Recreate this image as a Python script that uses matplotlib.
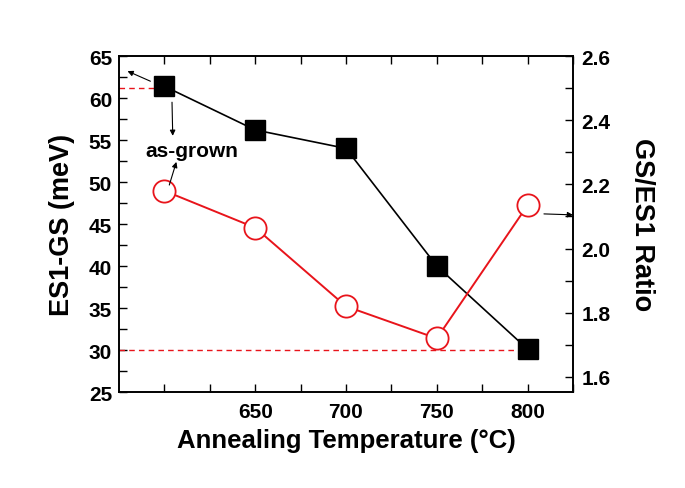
import matplotlib
matplotlib.use("Agg")
import matplotlib.pyplot as plt

plt.rcParams['font.family'] = ['Liberation Sans', 'DejaVu Sans']
plt.rcParams['font.weight'] = 'bold'

# data
temps = [600, 650, 700, 750, 800]          # 600 = as-grown
es1_gs = [61.4, 56.2, 54.0, 40.0, 30.1]     # meV, left axis
ratio = [2.18, 2.065, 1.82, 1.72, 2.135]    # GS/ES1, right axis
xticks = [650, 700, 750, 800]

fig = plt.figure(figsize=(6.85, 4.89), dpi=100)
ax = fig.add_axes([0.1737, 0.1963, 0.6628, 0.6871])
ax2 = ax.twinx()

ax.plot(temps, es1_gs, color='black', lw=1.2, marker='s', ms=14,
        mfc='black', mec='black', zorder=3)
ax2.plot(temps, ratio, color='#e8141b', lw=1.4, marker='o', ms=16,
         mfc='white', mec='#e8141b', mew=1.3, zorder=3)

# dashed guides
ax.plot([575, temps[0]], [es1_gs[0] - 0.15] * 2, color='#e8141b', lw=1, dashes=(4, 3))
ax.plot([575, temps[-1]], [es1_gs[-1] - 0.1] * 2, color='#e8141b', lw=1, dashes=(4, 3))

ax.set_xlim(575, 825)
ax.set_ylim(25, 65)
ax2.set_ylim(1.553, 2.6)

ax.set_xticks([600] + xticks)
ax.set_xticklabels([''] + [str(t) for t in xticks])
ax.set_xticks([625, 675, 725, 775, 825], minor=True)
ax.set_yticks(range(25, 66, 5))
ax.set_yticks([27.5 + 5 * i for i in range(8)], minor=True)
ax2.set_yticks([1.6, 1.8, 2.0, 2.2, 2.4, 2.6])
ax2.set_yticks([1.7, 1.9, 2.1, 2.3, 2.5], minor=True)

for a in (ax, ax2):
    a.tick_params(which='both', direction='in', labelsize=15, width=1, length=6)
    for s in a.spines.values():
        s.set_linewidth(1.2)
ax.tick_params(axis='x', which='both', top=True, pad=7)
ax.tick_params(axis='y', pad=5)
ax2.tick_params(axis='y', pad=6)

ax.set_xlabel('Annealing Temperature (°C)', fontsize=18.5, fontweight='bold', labelpad=5)
ax.set_ylabel('ES1-GS (meV)', fontsize=19.5, fontweight='bold', labelpad=10)
ax2.set_ylabel('GS/ES1 Ratio', fontsize=19.5, fontweight='bold', rotation=270, labelpad=32)

# annotations
arr = dict(arrowstyle='-|>', color='black', lw=0.8, mutation_scale=8, shrinkA=0, shrinkB=0)
ax.annotate('', xy=(579.7, 63.2), xytext=(592.3, 62.0), arrowprops=arr)
ax.annotate('', xy=(604.6, 55.5), xytext=(604.2, 59.5), arrowprops=arr)
ax.text(615, 53.7, 'as-grown', fontsize=15, fontweight='bold', ha='center', va='center')
ax2.annotate('', xy=(606.6, 2.27), xytext=(602.7, 2.198), arrowprops=arr)
ax2.annotate('', xy=(825, 2.105), xytext=(809, 2.108), arrowprops=arr)

fig.savefig('out.png', dpi=100)
